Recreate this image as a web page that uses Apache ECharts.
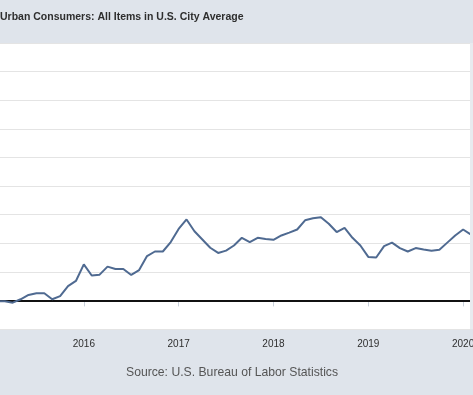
<!DOCTYPE html>
<html>
<head>
<meta charset="utf-8">
<script src="https://cdn.jsdelivr.net/npm/echarts@6/dist/echarts.min.js"></script>
<style>
html,body{margin:0;padding:0;background:#dfe4eb;}
#chart{width:473px;height:395px;}
</style>
</head>
<body>
<div id="chart"></div>
<script>
// Percent change from a year ago, monthly
var years = [2015, 2016, 2017, 2018, 2019, 2020];
var values2015 = [-0.1, -0.03, -0.03, -0.08, 0.04, 0.19, 0.25, 0.25, 0.04, 0.15, 0.5, 0.68];
var values2016 = [1.26, 0.87, 0.9, 1.18, 1.1, 1.1, 0.89, 1.06, 1.55, 1.71, 1.71, 2.04];
var values2017 = [2.5, 2.83, 2.42, 2.13, 1.84, 1.66, 1.74, 1.92, 2.19, 2.04, 2.19, 2.15];
var values2018 = [2.12, 2.27, 2.37, 2.48, 2.8, 2.87, 2.91, 2.68, 2.39, 2.54, 2.19, 1.92];
var values2019 = [1.52, 1.5, 1.9, 2.02, 1.83, 1.71, 1.83, 1.78, 1.74, 1.77, 2.02, 2.27];
var values2020 = [2.48, 2.3];
var tickLabels = ['2015', '2016', '2017', '2018', '2019', '2020'];
var titleText = 'Urban Consumers: All Items in U.S. City Average';
var sourceText = 'Source: U.S. Bureau of Labor Statistics';

var yearValues = [values2015, values2016, values2017, values2018, values2019, values2020];
var months = [];
var values = [];
years.forEach(function (y, i) {
  yearValues[i].forEach(function (v, m) {
    months.push(y + '-' + (m < 9 ? '0' : '') + (m + 1));
    values.push(v);
  });
});

var chart = echarts.init(document.getElementById('chart'));
chart.setOption({
  backgroundColor: '#dfe4eb',
  animation: false,
  title: [{
    text: titleText,
    left: 0,
    top: 12,
    padding: 0,
    textStyle: {fontFamily: 'Liberation Sans, Arial, sans-serif', fontSize: 10.5, fontWeight: 'bold', color: '#2e2e2e'}
  }, {
    text: sourceText,
    left: 126,
    top: 367,
    padding: 0,
    textStyle: {fontFamily: 'Liberation Sans, Arial, sans-serif', fontSize: 12.2, fontWeight: 'normal', color: '#555555'}
  }],
  grid: {
    left: -11, top: 43, width: 482, height: 286,
    outerBoundsMode: 'none',
    containLabel: false,
    show: true, backgroundColor: '#ffffff', borderWidth: 0
  },
  xAxis: {
    type: 'category',
    data: months,
    boundaryGap: false,
    axisLine: {show: false},
    axisTick: {
      show: true, length: 6,
      interval: function (idx, val) { return val.slice(5) === '01'; },
      lineStyle: {color: '#c9d1dc'}
    },
    axisLabel: {
      interval: function (idx, val) { return val.slice(5) === '01'; },
      formatter: function (val) { return tickLabels[tickLabels.indexOf(val.slice(0, 4))]; },
      fontFamily: 'Liberation Sans, Arial, sans-serif', fontSize: 10, color: '#2e2e2e', margin: 10
    },
    splitLine: {show: false}
  },
  yAxis: {
    type: 'value',
    min: -1, max: 9, interval: 1,
    axisLine: {show: false},
    axisTick: {show: false},
    axisLabel: {show: false},
    splitLine: {show: true, lineStyle: {color: '#e4e4e4', width: 1}}
  },
  graphic: [{
    type: 'rect',
    shape: {x: 470, y: 43, width: 3, height: 286},
    style: {fill: '#e8ebef'},
    z: 100
  }],
  series: [{
    type: 'line',
    data: values,
    symbol: 'none',
    clip: true,
    lineStyle: {color: '#4f6a91', width: 2},
    z: 5,
    markLine: {
      silent: true,
      symbol: 'none',
      label: {show: false},
      lineStyle: {color: '#111111', width: 2, type: 'solid'},
      data: [{yAxis: 0}],
      z: 3
    }
  }]
});
</script>
</body>
</html>
